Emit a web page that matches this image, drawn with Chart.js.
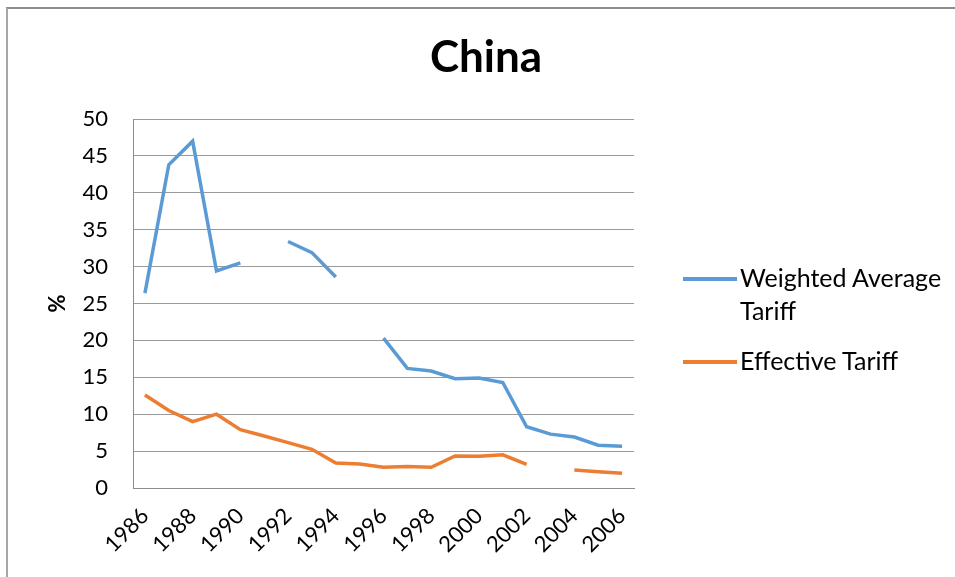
<!DOCTYPE html>
<html>
<head>
<meta charset="utf-8">
<script src="https://cdn.jsdelivr.net/npm/chart.js@4.4.1/dist/chart.umd.min.js"></script>
<style>
  html, body { margin: 0; padding: 0; background: #fff; }
  #wrap { position: relative; width: 955px; height: 577px; overflow: hidden; font-family: Lato, "Open Sans", sans-serif; }
  #frame { position: absolute; left: 6px; top: 7px; width: 1000px; height: 1000px; border-left: 2px solid #a6a6a6; border-top: 2px solid #8c8c8c; }
  #title { position: absolute; left: 0; width: 972px; top: 29px; text-align: center; font-weight: bold; font-size: 44px; color: #000; }
  #legend { position: absolute; left: 683px; top: 261px; font-size: 25px; color: #000; }
  .item { display: flex; align-items: flex-start; margin-bottom: 17px; }
  .swatch { width: 54px; height: 4px; margin-top: 16px; margin-right: 3px; flex: none; }
  .txt { line-height: 33px; }
  canvas { position: absolute; left: 0; top: 0; }
</style>
</head>
<body>
<div id="wrap">
  <div id="frame"></div>
  <canvas id="LineChart" width="955" height="577"></canvas>
  <div id="title">China</div>
  <div id="legend"></div>
</div>
<script>
// Data
const years = ['1986', '1987', '1988', '1989', '1990', '1991', '1992', '1993', '1994', '1995', '1996',
               '1997', '1998', '1999', '2000', '2001', '2002', '2003', '2004', '2005', '2006'];
const weightedTariff = [26.4, 43.8, 47.0, 29.4, 30.5, null, 33.4, 31.9, 28.6, null, 20.3,
                        16.2, 15.85, 14.8, 14.9, 14.3, 8.3, 7.3, 6.9, 5.8, 5.65];
const effectiveTariff = [12.6, 10.5, 9.0, 10.0, 7.9, 7.05, 6.15, 5.25, 3.4, 3.25, 2.8,
                         2.9, 2.8, 4.35, 4.3, 4.5, 3.2, null, 2.45, 2.2, 2.0];
const seriesNames = ['Weighted Average Tariff', 'Effective Tariff'];
const seriesColors = ['#5b9bd5', '#ed7d31'];

const ctx = document.getElementById('LineChart').getContext('2d');

const chart = new Chart(ctx, {
    type: 'line',
    data: {
        labels: years,
        datasets: [{
            label: seriesNames[0],
            data: weightedTariff,
            borderColor: seriesColors[0],
            backgroundColor: seriesColors[0],
            borderWidth: 3.5,
            pointRadius: 0,
            spanGaps: false,
            tension: 0
        }, {
            label: seriesNames[1],
            data: effectiveTariff,
            borderColor: seriesColors[1],
            backgroundColor: seriesColors[1],
            borderWidth: 3.5,
            pointRadius: 0,
            spanGaps: false,
            tension: 0
        }]
    },
    options: {
        responsive: false,
        animation: false,
        layout: {
            padding: { left: 45, right: 321, top: 119, bottom: 0 }
        },
        plugins: {
            legend: { display: false },
            title: { display: false },
            tooltip: { enabled: false }
        },
        scales: {
            x: {
                offset: true,
                grid: { display: false },
                border: { display: true, color: '#8c8c8c', width: 1 },
                ticks: {
                    color: '#000',
                    font: { family: 'Lato', size: 22 },
                    minRotation: 45,
                    maxRotation: 45,
                    autoSkip: false,
                    padding: 7,
                    callback: function (value, index) {
                        return index % 2 === 0 ? this.getLabelForValue(value) : '';
                    }
                },
                afterFit: (scale) => { scale.height = 89; }
            },
            y: {
                min: 0,
                max: 50,
                ticks: {
                    stepSize: 5,
                    color: '#000',
                    font: { family: 'Lato', size: 22 },
                    padding: 25
                },
                grid: {
                    color: '#9a9a9a',
                    lineWidth: 1,
                    drawTicks: false
                },
                border: { display: true, color: '#8c8c8c', width: 1 },
                title: {
                    display: true,
                    text: '%',
                    color: '#000',
                    font: { family: 'Lato', size: 22, weight: 'bold' },
                    padding: 0
                },
                afterFit: (scale) => { scale.width = 88; }
            }
        }
    }
});

// HTML legend (needs the wrapped label like the original)
const legendBox = document.getElementById('legend');
const legendText = ['Weighted Average<br>Tariff', 'Effective Tariff'];
chart.data.datasets.forEach((ds, i) => {
    const item = document.createElement('div');
    item.className = 'item';
    item.innerHTML = '<div class="swatch" style="background:' + ds.borderColor + '"></div><div class="txt">' + legendText[i] + '</div>';
    legendBox.appendChild(item);
});
</script>
</body>
</html>
